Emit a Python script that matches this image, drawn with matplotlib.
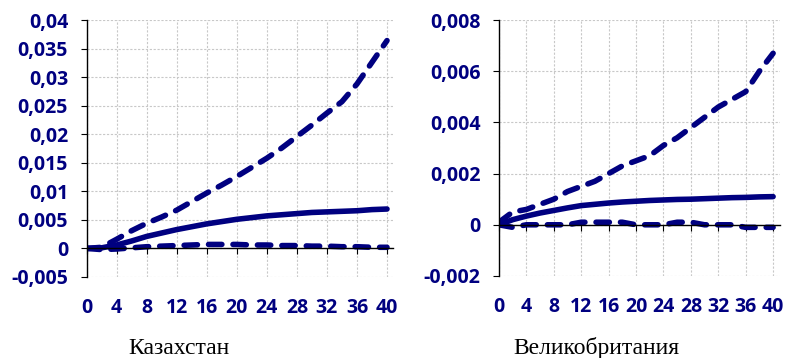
import matplotlib.pyplot as plt
from matplotlib.ticker import MultipleLocator, FuncFormatter

plt.rcParams['font.family'] = 'Open Sans'
plt.rcParams['font.weight'] = 'bold'

# periods (horizon), read every 2 steps
periods = [0, 2, 4, 6, 8, 10, 12, 14, 16, 18, 20, 22, 24, 26, 28, 30, 32, 34, 36, 38, 40]

# Kazakhstan: response and confidence band
kz_mid = [0.0, 0.0001, 0.0006, 0.0013, 0.0021, 0.0027, 0.0033, 0.0038, 0.0043, 0.0047, 0.0051,
          0.0054, 0.0057, 0.0059, 0.0061, 0.0063, 0.0064, 0.0065, 0.0066, 0.0068, 0.0069]
kz_up = [0.0, 0.0002, 0.0016, 0.0031, 0.0044, 0.0055, 0.0067, 0.0082, 0.0097, 0.0111, 0.0126,
         0.0142, 0.0158, 0.0176, 0.0196, 0.0216, 0.0237, 0.0257, 0.0288, 0.0326, 0.0364]
kz_low = [0.0, -0.0002, -0.0001, 0.0001, 0.0003, 0.0004, 0.0005, 0.0006, 0.0007, 0.0007, 0.0007,
          0.0006, 0.0006, 0.0005, 0.0005, 0.0004, 0.0004, 0.0003, 0.0003, 0.0002, 0.0002]

# United Kingdom
uk_mid = [0.0, 0.0002, 0.00034, 0.00046, 0.00056, 0.00066, 0.00075, 0.0008, 0.00085, 0.00089, 0.00092,
          0.00095, 0.00097, 0.00099, 0.001, 0.00102, 0.00104, 0.00106, 0.00107, 0.00109, 0.0011]
uk_up = [0.0001, 0.0005, 0.0006, 0.0008, 0.001, 0.0013, 0.0015, 0.0017, 0.002, 0.0023, 0.0025,
         0.0027, 0.0031, 0.0034, 0.0038, 0.0042, 0.0046, 0.0049, 0.0052, 0.006, 0.0067]
uk_low = [0.0, -0.0001, 0.0, 0.0, 0.0, 0.0, 0.0001, 0.0001, 0.0001, 0.0001, 0.0,
          0.0, 0.0, 0.0001, 0.0001, 0.0, 0.0, 0.0, -0.0001, -0.0001, -0.0001]

xticks = list(range(0, 41, 4))
titles = ['Казахстан', 'Великобритания']

NAVY = '#000080'


def comma_fmt(v, pos):
    return ('%g' % round(v, 6)).replace('.', ',')


def draw_panel(ax, mid, up, low, ylim, ystep, xmax):
    ax.set_xlim(0, xmax)
    ax.set_ylim(*ylim)
    ax.yaxis.set_major_locator(MultipleLocator(ystep))
    ax.yaxis.set_major_formatter(FuncFormatter(comma_fmt))
    ax.set_xticks(xticks)
    ax.grid(True, color='#c8c8c8', linestyle=(0, (2, 1.5)), linewidth=0.8)
    ax.set_axisbelow(True)
    for s in ['top', 'right']:
        ax.spines[s].set_visible(False)
    ax.spines['left'].set_color('black')
    ax.spines['left'].set_linewidth(1.0)
    ax.spines['bottom'].set_position(('data', 0))
    ax.spines['bottom'].set_color('black')
    ax.spines['bottom'].set_linewidth(1.0)
    ax.tick_params(axis='x', direction='out', length=4, width=0.8, labelbottom=False)
    ax.tick_params(axis='y', direction='out', length=4.3, width=0.8, pad=9,
                   labelsize=14, labelcolor=NAVY)

    dash = dict(color=NAVY, linewidth=4.0, dashes=(2.4, 2.0), dash_capstyle='round')
    ax.plot(periods, up, **dash)
    ax.plot(periods, low, **dash)
    ax.plot(periods, mid, color=NAVY, linewidth=4.0, solid_capstyle='round')

    sec = ax.secondary_xaxis(0)
    sec.set_xticks(xticks)
    sec.spines['bottom'].set_visible(False)
    sec.tick_params(length=0, pad=15, labelsize=14, labelcolor=NAVY)


fig = plt.figure(figsize=(7.9, 3.58), dpi=100)
ax1 = fig.add_axes([0.1095, 0.2263, 0.388, 0.7178])
ax2 = fig.add_axes([0.6316, 0.2291, 0.3557, 0.7150])

draw_panel(ax1, kz_mid, kz_up, kz_low, (-0.005, 0.04), 0.005, 40.8)
draw_panel(ax2, uk_mid, uk_up, uk_low, (-0.002, 0.008), 0.002, 41.0)

fig.text(0.2266, 1 - 354 / 358, titles[0], ha='center', va='baseline',
         fontsize=17, family='Liberation Serif', weight='normal')
fig.text(0.7544, 1 - 354 / 358, titles[1], ha='center', va='baseline',
         fontsize=17, family='Liberation Serif', weight='normal')

fig.savefig('out.png', dpi=100)
